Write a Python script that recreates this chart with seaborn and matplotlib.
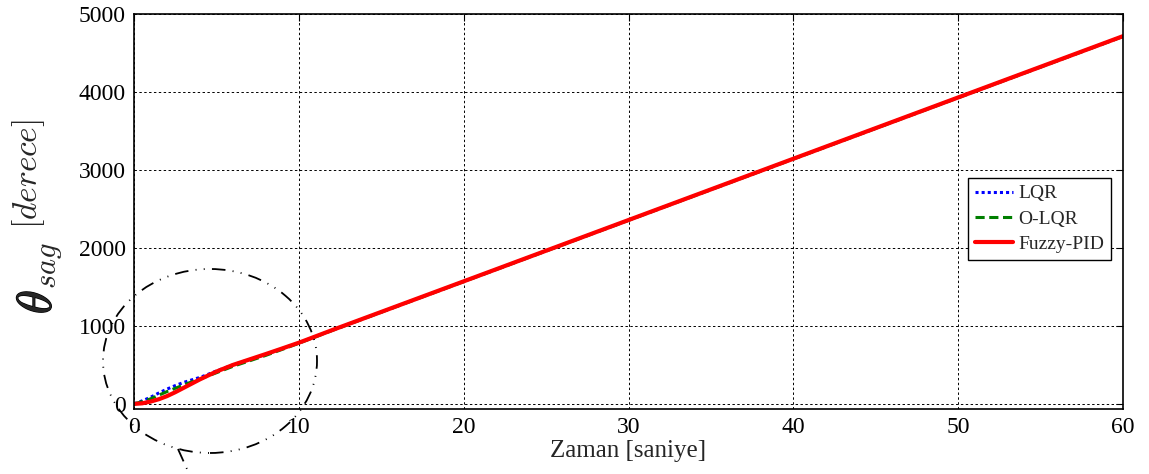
import numpy as np
import pandas as pd
import matplotlib
matplotlib.use("Agg")
import matplotlib.pyplot as plt
import matplotlib.patheffects as pe
from matplotlib.patches import Ellipse
from matplotlib.lines import Line2D
import seaborn as sns

# Time axis [s] and heading angle responses [deg]
time = [0, 0.5, 1, 1.5, 2, 2.5, 3, 3.5, 4, 4.5, 5, 6, 7, 8, 9, 10,
        12, 15, 20, 30, 40, 50, 60]
lqr = [0, 40, 85, 140, 190, 235, 275, 308, 340, 380, 423, 500, 568, 637,
       710, 783, 943, 1178, 1570, 2356, 3142, 3928, 4714]
olqr = [0, 30, 65, 112, 158, 200, 243, 283, 320, 360, 400, 482, 552, 623,
        700, 778, 940, 1176, 1568, 2354, 3140, 3926, 4712]
fuzzy_pid = [0, 8, 30, 60, 100, 150, 205, 260, 315, 365, 415, 500, 570,
             640, 712, 785, 945, 1180, 1572, 2358, 3144, 3930, 4716]

series_names = ["LQR", "O-LQR", "Fuzzy-PID"]
x_ticks = [0, 10, 20, 30, 40, 50, 60]
y_ticks = [0, 1000, 2000, 3000, 4000, 5000]

sns.set_theme(style="white")
plt.rcParams["font.family"] = ["Liberation Serif", "DejaVu Serif"]
plt.rcParams["mathtext.fontset"] = "cm"

W, H = 1149, 474
fig = plt.figure(figsize=(W / 100, H / 100), dpi=100)
ax = fig.add_axes([134 / W, 1 - 409 / H, (1123 - 134) / W, (409 - 14) / H])

df = pd.DataFrame({"t": time, "LQR": lqr, "O-LQR": olqr, "Fuzzy-PID": fuzzy_pid})

sns.lineplot(data=df, x="t", y="LQR", ax=ax, color="#0000ff", lw=2.2,
             linestyle=(0, (1.0, 1.0)), label=series_names[0])
sns.lineplot(data=df, x="t", y="O-LQR", ax=ax, color="#007f00", lw=2.2,
             linestyle=(0, (3.0, 1.5)), label=series_names[1])
sns.lineplot(data=df, x="t", y="Fuzzy-PID", ax=ax, color="#ff0000", lw=3.0,
             linestyle="-", label=series_names[2])

ax.set_xlim(0, 60)
ax.set_ylim(-65, 5000)
ax.set_xticks(x_ticks)
ax.set_yticks(y_ticks)
ax.tick_params(axis="both", which="both", direction="in", length=5, width=0.8,
               top=True, right=True, labelsize=17, colors="black", pad=6)
for sp in ax.spines.values():
    sp.set_color("black")
    sp.set_linewidth(1.2)
    sp.set_visible(True)
ax.grid(True, color="black", linestyle=(0, (2.5, 2.5)), linewidth=0.7)

ax.set_xlabel("Zaman [saniye]", fontsize=18, labelpad=1)
ax.set_ylabel("")

# Vertical axis label: angle symbol, subscript and unit
fig.text(39 / W, 1 - 302 / H, r"$\theta$", rotation=90, fontsize=35,
         ha="center", va="center",
         path_effects=[pe.withStroke(linewidth=1.0, foreground="black")])
fig.text(49 / W, 1 - 266 / H, r"$sag$", rotation=90, fontsize=22,
         ha="center", va="center")
fig.text(29 / W, 1 - 174 / H, r"$[derece]$", rotation=90, fontsize=24,
         ha="center", va="center")

leg = ax.legend(loc="upper right", bbox_to_anchor=(0.988, 0.585), fontsize=14,
                frameon=True, fancybox=False, framealpha=1, edgecolor="black",
                handlelength=1.95, handletextpad=0.3, borderpad=0.35,
                labelspacing=0.4, borderaxespad=0)
leg.get_frame().set_linewidth(1.0)

# Zoom marker around the start-up transient
dashdotdot = (0, (7.5, 4.0, 0.55, 4.0, 0.55, 4.0))
ell = Ellipse((210, H - 361), 214, 184, transform=None, fill=False,
              edgecolor="black", lw=1.3, linestyle=dashdotdot, clip_on=False)
fig.add_artist(ell)
fig.add_artist(Line2D([178, 191], [H - 449, H - 478], transform=None,
                      color="black", lw=1.3, linestyle=dashdotdot, clip_on=False))

fig.savefig("out.png", dpi=100, facecolor="white")
